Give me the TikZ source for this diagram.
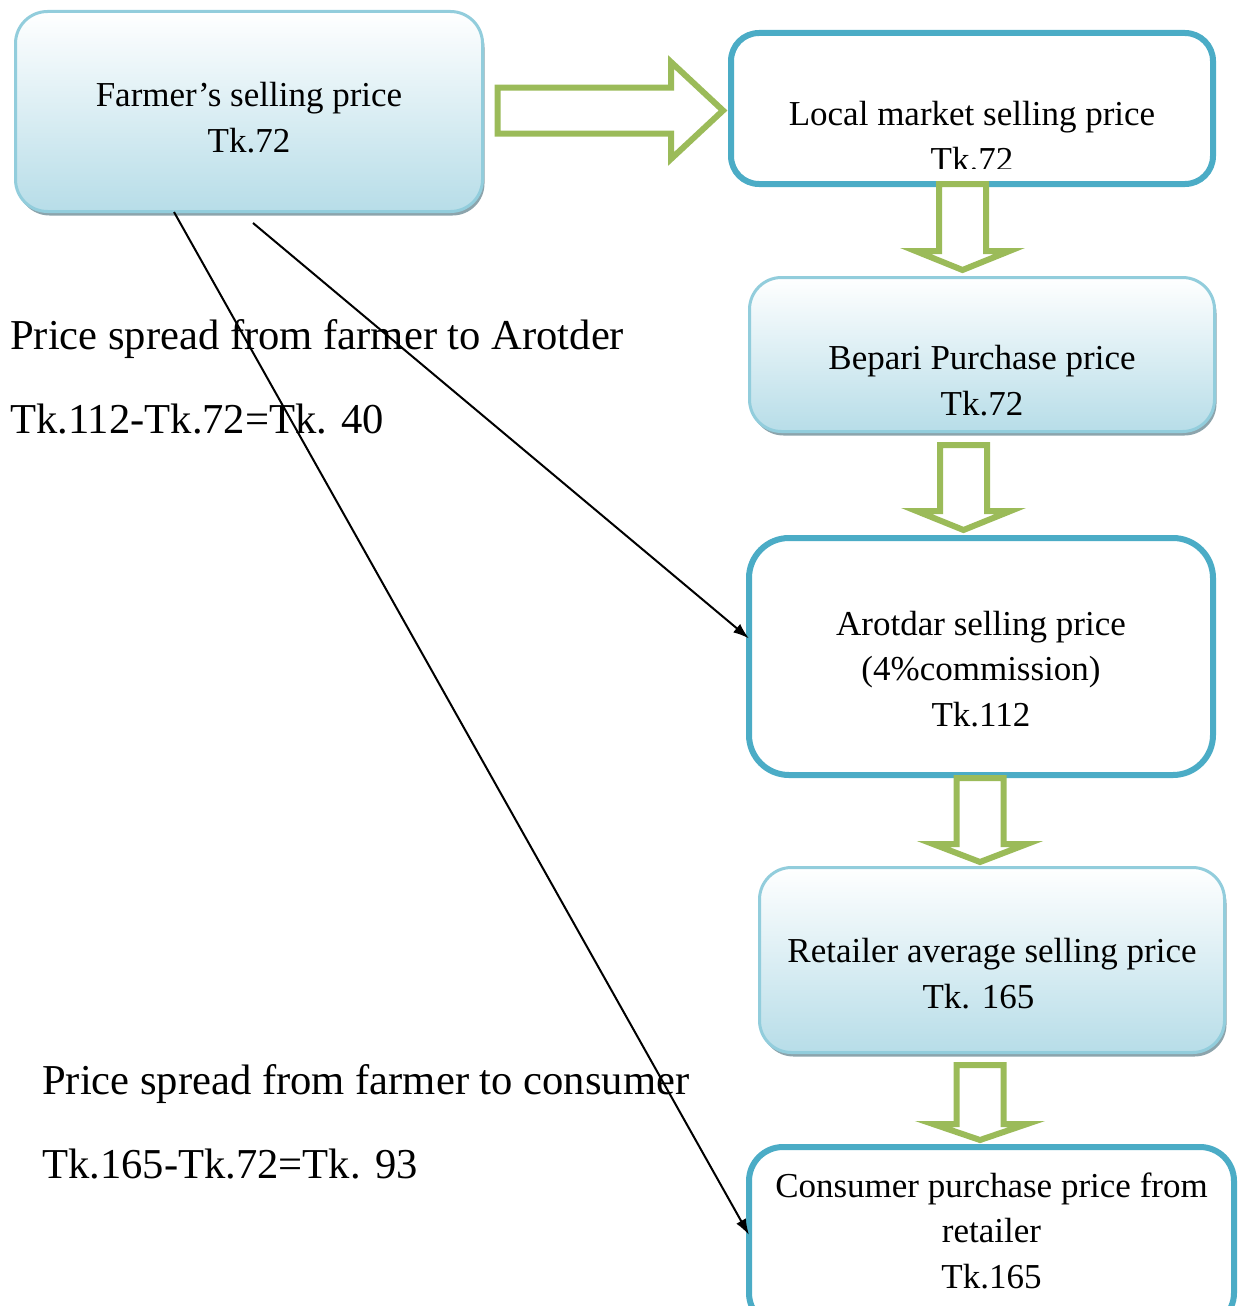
\documentclass[tikz,border=0pt]{standalone}
\usepackage{fontspec}
\setmainfont{Liberation Serif}
\usepackage{xcolor}
\usepackage{tikz}
\usetikzlibrary{shadows,arrows.meta,calc}
\definecolor{aqua}{RGB}{75,172,198}
\definecolor{softline}{RGB}{146,205,220}
\definecolor{softblue}{RGB}{183,221,232}
\definecolor{leafgreen}{RGB}{155,187,89}
\definecolor{shadowgray}{RGB}{140,164,172}
\newcommand{\boxfont}{\fontsize{35}{45.5}\selectfont}
\newcommand{\spreadfont}{\fontsize{42.6}{84}\selectfont}
\tikzstyle{softbox} = [rectangle, rounded corners=32pt, draw=softline, line width=3pt, top color=white, bottom color=softblue, drop shadow={shadow xshift=2pt, shadow yshift=-4pt, fill=shadowgray, opacity=1}, align=center, font=\boxfont, inner sep=0pt, outer sep=0pt]
\tikzstyle{plainbox} = [rectangle, rounded corners=34pt, draw=aqua, line width=6pt, fill=white, align=center, font=\boxfont, inner sep=0pt, outer sep=0pt]
\tikzstyle{blockarrow} = [draw=leafgreen, line width=6pt, fill=white, line join=miter]
\tikzstyle{arrow} = [line width=2pt, -{Latex[length=16pt,width=11pt]}]
\tikzstyle{spread} = [font=\spreadfont, align=left, anchor=base west, inner sep=0pt]
% block arrow pointing down: centre x, top, head base, tip
\newcommand{\flowdown}[4]{%
  \draw[blockarrow] (#1-23.5,#2) -- (#1+23.5,#2) -- (#1+23.5,#3) -- (#1+47,#3)
    -- (#1,#4) -- (#1-47,#3) -- (#1-23.5,#3) -- cycle;}

\begin{document}
\begin{tikzpicture}[x=1pt, y=-1pt]
    \useasboundingbox (0,0) rectangle (1243,1306);
    % boxes
    \node[softbox, minimum width=467pt, minimum height=200pt, text height=81pt, text depth=0pt] (farmer) at (249,111.5) {Farmer’s selling price\\Tk.72};
    \node[plainbox, rounded corners=28pt, minimum width=482pt, minimum height=151pt] (local) at (972,108.5) {};
    \begin{scope}
        \clip (700,0) rectangle (1243,168);
        \node[align=center, font=\boxfont, inner sep=0pt, text height=125pt, text depth=0pt] (localtext) at (local.center) {Local market selling price\\Tk.72};
    \end{scope}
    \node[softbox, minimum width=465pt, minimum height=154pt, text height=121pt, text depth=0pt] (bepari) at (982,354.5) {Bepari Purchase price\\Tk.72};
    \node[plainbox, rounded corners=40pt, minimum width=464pt, minimum height=237pt, text height=139pt, text depth=0pt] (arotdar) at (981,656.5) {Arotdar selling price\\(4\%commission)\\Tk.112};
    \node[softbox, minimum width=465pt, minimum height=185pt, text height=96pt, text depth=0pt] (retailer) at (992,960) {Retailer average selling price\\Tk. 165\hspace*{27pt}};
    \node[plainbox, minimum width=485pt, minimum height=180pt, text height=102pt, text depth=0pt] (consumer) at (991.5,1237) {Consumer purchase price from\\retailer\\Tk.165};

    % block arrows
    \draw[blockarrow] (497.5,87.5) -- (671,87.5) -- (671,62) -- (723,110.5) -- (671,159) -- (671,133.5) -- (497.5,133.5) -- cycle;
    \flowdown{962.5}{184}{251}{270}
    \flowdown{963.5}{445}{511}{530}
    \flowdown{980}{778}{844}{862}
    \flowdown{980}{1065}{1124}{1140}

    % price spread
    \node[spread] (spreadA) at (10,433) {Price spread from farmer to Arotder\\Tk.112-Tk.72=Tk. 40};
    \node[spread] (spreadB) at (42,1178) {Price spread from farmer to consumer\\Tk.165-Tk.72=Tk. 93};

    \coordinate (f1) at (174,212);
    \coordinate (f2) at (253,223);
    \draw[arrow] (f2) -- ([yshift=18pt]arotdar.west);
    \draw[arrow] (f1) -- ([yshift=2pt]consumer.west);
\end{tikzpicture}
\end{document}
